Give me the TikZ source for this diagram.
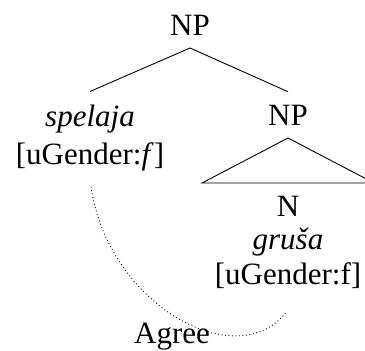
\documentclass[tikz,border=0pt]{standalone}
\usepackage{fontspec}
\setmainfont{Liberation Serif}
\tikzset{
  cat/.style={inner sep=0pt, outer xsep=0pt, outer ysep=13pt, anchor=base,
    font=\fontsize{31}{37}\selectfont},
  branch/.style={line width=0.9pt},
  agree/.style={line width=0.9pt, dash pattern=on 0.9pt off 2.6pt}
}

\begin{document}
\begin{tikzpicture}[x=1pt, y=-1pt]
  \useasboundingbox (0,0) rectangle (365,351);
  \clip (0,0) rectangle (365,351);
  % tree
  \node[cat] (np) at (190,35) {NP};
  \node[cat] (spel) at (90,126) {\textit{spelaja}};
  \node[cat] (spelf) at (90,164) {[uGender:\textit{f}]};
  \node[cat] (np2) at (288,125) {NP};
  \node[cat] (n) at (288,216) {N};
  \node[cat] (grusa) at (288,249) {\textit{gruša}};
  \node[cat] (grusaf) at (288,284) {[uGender:f]};
  \node[cat] (agr) at (172,343) {Agree};
  \draw[branch] (np.south) -- (spel.north);
  \draw[branch] (np.south) -- (np2.north);
  \coordinate (tl) at (202,183);
  \coordinate (tr) at (374,183);
  \draw[branch] (np2.south) -- (tl) -- (tr) -- cycle;
  % agree arc
  \draw[agree] ([shift={(1pt,-3pt)}]spelf.south) .. controls +(17,119) and +(-49,65)
    .. ([shift={(-1pt,-10pt)}]grusaf.south);
\end{tikzpicture}
\end{document}
